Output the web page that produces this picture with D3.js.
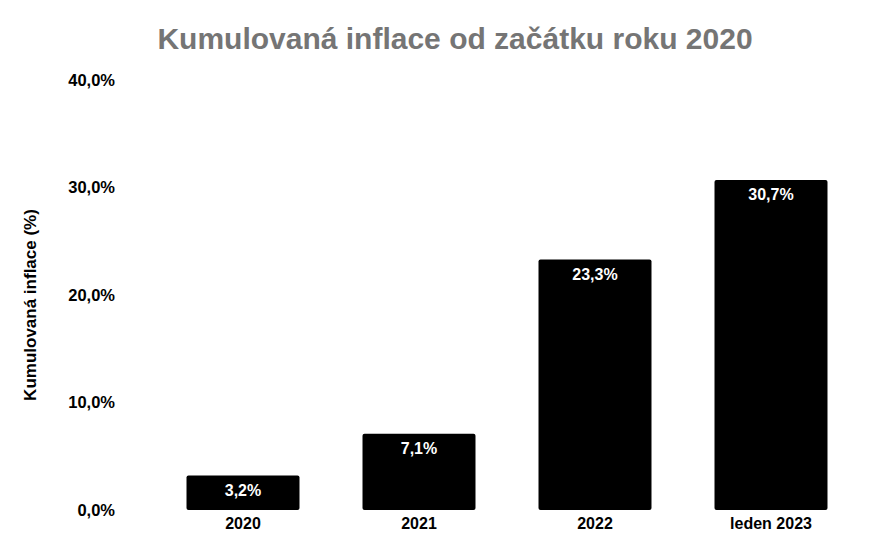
<!DOCTYPE html>
<html>
<head>
<meta charset="utf-8">
<script src="https://cdn.jsdelivr.net/npm/d3@7"></script>
<style>
  body { margin: 0; background: #fff; }
  svg text { font-family: "Liberation Sans", Arial, sans-serif; }
</style>
</head>
<body>
<svg id="chart" width="892" height="560"></svg>
<script>
// Data
const categories = ['2020', '2021', '2022', 'leden 2023'];
const values = [3.2, 7.1, 23.3, 30.7];
const yTicks = [0, 10, 20, 30, 40];

const svg = d3.select('#chart');
const width = 892;
const height = 560;
const margin = { top: 80, right: 33, bottom: 50, left: 155 };

const fmt = v => d3.format('.1f')(v).replace('.', ',') + '%';

const x = d3.scaleBand()
  .domain(categories)
  .range([margin.left, width - margin.right])
  .paddingInner(0.358)
  .paddingOuter(0.179);

const y = d3.scaleLinear()
  .domain([0, 40])
  .range([height - margin.bottom, margin.top]);

// Title
svg.append('text')
  .attr('x', 455)
  .attr('y', 49)
  .attr('text-anchor', 'middle')
  .attr('fill', '#757575')
  .attr('font-size', 30)
  .attr('font-weight', 'bold')
  .text('Kumulovaná inflace od začátku roku 2020');

// Bars
svg.selectAll('.bar')
  .data(values)
  .enter()
  .append('rect')
  .attr('class', 'bar')
  .attr('x', (d, i) => x(categories[i]))
  .attr('y', d => y(d))
  .attr('width', x.bandwidth())
  .attr('height', d => y(0) - y(d))
  .attr('rx', 2)
  .attr('fill', '#000');

// Value labels inside bars
svg.selectAll('.label')
  .data(values)
  .enter()
  .append('text')
  .attr('class', 'label')
  .attr('x', (d, i) => x(categories[i]) + x.bandwidth() / 2)
  .attr('y', d => y(d) + 20)
  .attr('text-anchor', 'middle')
  .attr('fill', '#fff')
  .attr('font-size', 16)
  .attr('font-weight', 'bold')
  .text(d => fmt(d));

// Y axis
const yAxis = svg.append('g')
  .attr('transform', 'translate(115,0)')
  .call(d3.axisLeft(y).tickValues(yTicks).tickSize(0).tickPadding(0).tickFormat(fmt));
yAxis.select('.domain').remove();
yAxis.selectAll('text')
  .attr('fill', '#000')
  .attr('font-size', 16.5)
  .attr('font-weight', 'bold')
  .attr('font-family', '"Liberation Sans", Arial, sans-serif');

// X axis
const xAxis = svg.append('g')
  .attr('transform', `translate(0,${height - margin.bottom})`)
  .call(d3.axisBottom(x).tickSize(0).tickPadding(8));
xAxis.select('.domain').remove();
xAxis.selectAll('text')
  .attr('fill', '#000')
  .attr('font-size', 16)
  .attr('font-weight', 'bold')
  .attr('font-family', '"Liberation Sans", Arial, sans-serif');

// Y axis title
svg.append('text')
  .attr('transform', 'rotate(-90)')
  .attr('x', -305)
  .attr('y', 36)
  .attr('text-anchor', 'middle')
  .attr('fill', '#000')
  .attr('font-size', 17)
  .attr('font-weight', 'bold')
  .text('Kumulovaná inflace (%)');
</script>
</body>
</html>
